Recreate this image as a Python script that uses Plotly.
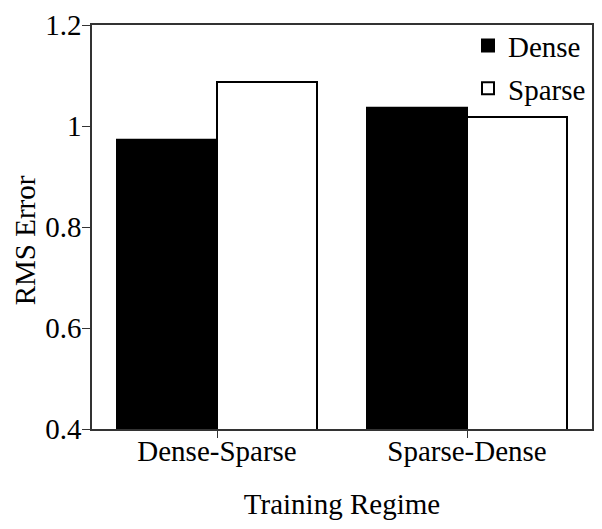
import plotly.graph_objects as go

categories = ["Dense-Sparse", "Sparse-Dense"]
dense_vals = [0.973, 1.036]
sparse_vals = [1.087, 1.018]
y_ticks = [0.4, 0.6, 0.8, 1.0, 1.2]
y_tick_labels = ["0.4", "0.6", "0.8", "1", "1.2"]
y_title = "RMS Error"
x_title = "Training Regime"

font_family = "Liberation Serif, Times New Roman, serif"
fs = 29

fig = go.Figure()
fig.add_trace(go.Bar(x=categories, y=dense_vals, name="Dense", legendgroup="a",
                     marker=dict(color="black", line=dict(color="black", width=2))))
fig.add_trace(go.Bar(x=categories, y=sparse_vals, name="Sparse", legendgroup="b",
                     marker=dict(color="white", line=dict(color="black", width=2))))

fig.update_layout(
    width=602, height=529,
    margin=dict(l=84, r=18, t=12, b=108),
    paper_bgcolor="white", plot_bgcolor="white",
    barmode="group", bargap=0.2, bargroupgap=0,
    font=dict(family=font_family, size=fs, color="black"),
    legend=dict(x=0.752, y=1.012, xanchor="left", yanchor="top",
                bgcolor="rgba(0,0,0,0)", tracegroupgap=2,
                font=dict(size=fs)),
    showlegend=True,
)
fig.add_annotation(text=y_title, xref="paper", yref="paper", x=-0.134, y=0.467,
                   xanchor="center", yanchor="middle", textangle=-90, borderpad=0,
                   showarrow=False, font=dict(size=fs, family=font_family))
fig.update_xaxes(
    range=[-0.5, 1.5], showline=True, linecolor="#333", linewidth=1.5, mirror=True,
    ticks="outside", ticklen=7, tickcolor="#333", automargin=False,
    ticklabelstandoff=-12,
    title=dict(text=x_title, font=dict(size=fs), standoff=28),
    tickfont=dict(size=fs), showgrid=False,
)
fig.update_yaxes(
    range=[0.4, 1.2], tickvals=y_ticks, ticktext=y_tick_labels,
    showline=True, linecolor="#333", linewidth=1.5, mirror=True,
    ticks="outside", ticklen=8, tickcolor="#333", automargin=False,
    ticklabelstandoff=-5, ticklabeloverflow="allow",
    tickfont=dict(size=fs), showgrid=False, zeroline=False,
)

fig.write_html("out.html")
